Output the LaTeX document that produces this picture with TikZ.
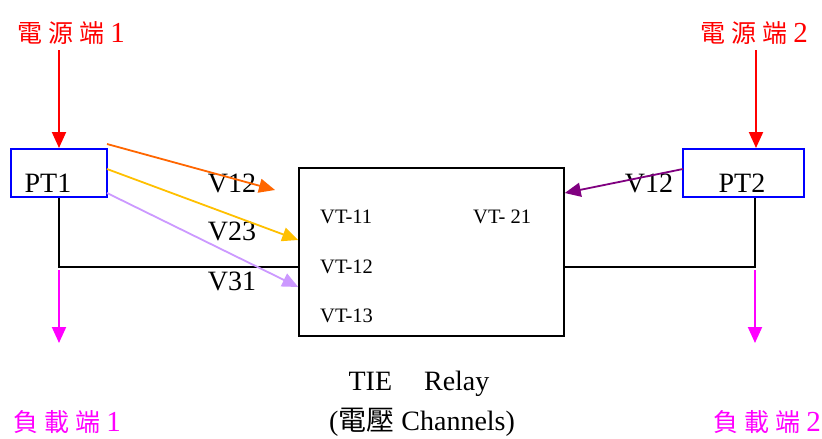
\documentclass[tikz,border=0pt]{standalone}
\usepackage{fontspec}
\setmainfont{Liberation Serif}
\newfontfamily\cjk{Noto Sans CJK TC}
\usetikzlibrary{arrows.meta}
\definecolor{srcred}{HTML}{FF0000}
\definecolor{ptblue}{HTML}{0000FF}
\definecolor{loadmag}{HTML}{FF00FF}
\definecolor{arrorange}{HTML}{FF6600}
\definecolor{arryellow}{HTML}{FFC000}
\definecolor{arrlav}{HTML}{CC99FF}
\definecolor{arrpurple}{HTML}{800080}
\newcommand{\spc}{\hspace{6pt}}
\newcommand{\digit}[1]{{\fontsize{29}{30}\selectfont #1}}
\begin{document}
\begin{tikzpicture}[x=1pt,y=-1pt,
  ptbox/.style={draw=ptblue,line width=2pt,inner sep=0pt},
  relaybox/.style={draw=black,line width=1.5pt,inner sep=0pt,minimum width=265pt,minimum height=168pt},
  bigtxt/.style={font=\fontsize{28}{30}\selectfont,inner sep=0pt,anchor=base},
  vttxt/.style={font=\fontsize{20.5}{22}\selectfont,inner sep=0pt,anchor=base west},
  srctxt/.style={font=\fontsize{25}{26}\selectfont,text=srcred,inner sep=0pt},
  loadtxt/.style={font=\fontsize{25}{26}\selectfont,text=loadmag,inner sep=0pt},
  tip/.style={-{Triangle[length=16pt,width=14pt]}},
  srcarrow/.style={tip,draw=srcred,fill=srcred,line width=2pt},
  loadarrow/.style={tip,draw=loadmag,fill=loadmag,line width=2pt},
  wire/.style={draw=black,line width=1.5pt},
  sig/.style={tip,line width=1.8pt}
]
\useasboundingbox (0,0) rectangle (822,439);
\fill[white] (0,0) rectangle (822,439);

% boxes
\node[ptbox,minimum width=96pt,minimum height=48pt] (pt1) at (59,173) {};
\node[ptbox,minimum width=121pt,minimum height=48pt] (pt2) at (743.5,173) {};
\node[relaybox] (relay) at (431.5,252) {};

% box texts
\node[bigtxt] (pt1t) at (48,192) {PT1};
\node[bigtxt] (pt2t) at (742,192) {PT2};
\node[vttxt] (vt11) at (320,223) {VT-11};
\node[vttxt] (vt21) at (473,223) {VT- 21};
\node[vttxt] (vt12) at (320,273) {VT-12};
\node[vttxt] (vt13) at (320,322) {VT-13};
\node[bigtxt] (tie) at (419,390) {TIE\hspace{32pt}Relay};
\node[bigtxt] (chan) at (422,430) {({\cjk 電壓} Channels)};

% labels
\node[srctxt] (src1) at (71,33) {{\cjk 電\spc 源\spc 端} \digit{1}};
\node[srctxt] (src2) at (754,33) {{\cjk 電\spc 源\spc 端} \digit{2}};
\node[loadtxt] (load1) at (67,422) {{\cjk 負\spc 載\spc 端} \digit{1}};
\node[loadtxt] (load2) at (767,422) {{\cjk 負\spc 載\spc 端} \digit{2}};

\node[bigtxt] (v12a) at (232,192) {V12};
\node[bigtxt] (v23) at (232,240) {V23};
\node[bigtxt] (v31) at (232,290) {V31};
\node[bigtxt] (v12b) at (649,192) {V12};

% coordinates
\coordinate (s1) at (59,50);
\coordinate (s2) at (756,50);
\coordinate (j1) at (59,267);
\coordinate (j2) at (755,267);
\coordinate (m1) at (59,270);
\coordinate (l1) at (59,343);
\coordinate (m2) at (755,270);
\coordinate (l2) at (755,343);
\coordinate (oa) at (107,144);
\coordinate (ob) at (275,190);
\coordinate (ya) at (107,169);
\coordinate (la) at (107,193);
\coordinate (pa) at (683,169);

% source arrows
\draw[srcarrow] (s1) -- (pt1.north);
\draw[srcarrow] (s2) -- (s2 |- pt2.north);

% wires
\draw[wire] (pt1.south) -- (j1) -- (j1 -| relay.west);
\draw[wire] (j2 |- pt2.south) -- (j2) -- (j2 -| relay.east);

% load arrows
\draw[loadarrow] (m1) -- (l1);
\draw[loadarrow] (m2) -- (l2);

% signal arrows
\draw[sig,draw=arrorange,fill=arrorange] (oa) -- (ob);
\draw[sig,draw=arryellow,fill=arryellow] (ya) -- (relay.west |- 0,240);
\draw[sig,draw=arrlav,fill=arrlav] (la) -- (relay.west |- 0,287);
\draw[sig,draw=arrpurple,fill=arrpurple] (pa) -- (relay.east |- 0,193);
\end{tikzpicture}
\end{document}
